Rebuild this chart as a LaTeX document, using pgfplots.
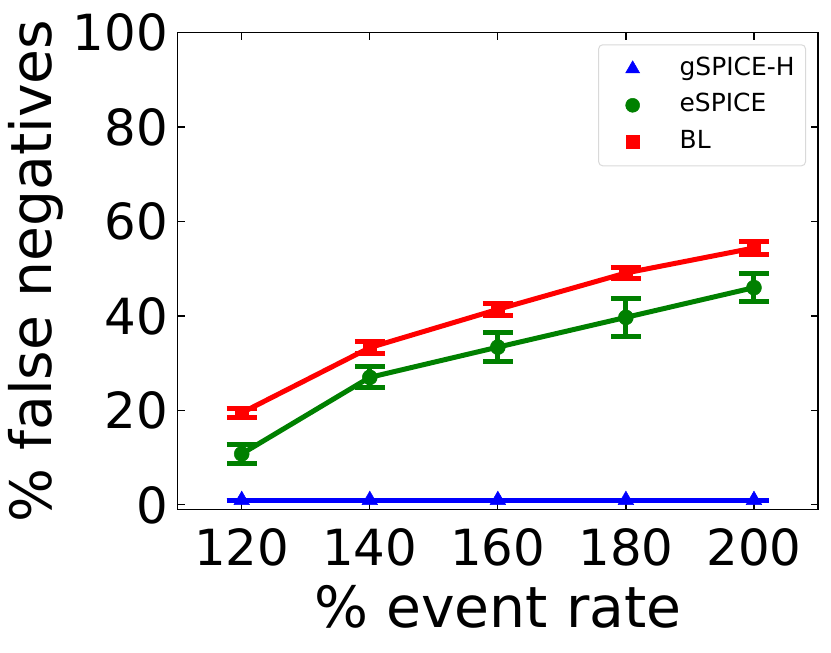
\documentclass[border=0pt]{standalone}
\usepackage{fontspec}
\setmainfont{DejaVu Sans}
\usepackage{pgfplots}
\pgfplotsset{compat=1.18}
\definecolor{mgreen}{RGB}{0,128,0}
\begin{document}
\begin{tikzpicture}
\begin{axis}[
  at={(0,0)}, anchor=south west,
  scale only axis, width=640.3bp, height=477bp,
  xmin=110, xmax=210, ymin=-1, ymax=100,
  xtick={120,140,...,200}, ytick={0,20,...,100},
  tick align=inside, major tick length=7bp,
  every tick/.style={black, line width=1.2bp},
  axis line style={line width=1.2bp},
  /pgf/number format/assume math mode=true,
  ticklabel style={font=\fontsize{50}{60}\selectfont},
  xticklabel style={anchor=north, inner sep=0pt, yshift=-19bp},
  yticklabel style={anchor=east, inner sep=0pt, xshift=-9.7bp},
  xlabel={\% event rate}, ylabel={\% false negatives},
  label style={font=\fontsize{57}{68}\selectfont, inner sep=0pt},
  xlabel style={at={([yshift=-117.7bp]axis description cs:0.5,0)}, anchor=base},
  ylabel style={at={([xshift=-125.7bp]axis description cs:0,0.5)}, anchor=base},
  legend style={at={([xshift=-12bp,yshift=-11.7bp]axis description cs:1,1)}, anchor=north east,
    draw=black!15, line width=1bp, rounded corners=4bp, fill=white,
    inner xsep=11bp, inner ysep=12.5bp, row sep=13.5bp, column sep=20bp,
    font=\fontsize{25}{30}\selectfont,
    nodes={inner sep=0pt, text height=18bp, text depth=5bp}},
  legend cell align=left,
  legend image code/.code={\path[draw=none,fill=none] (0bp,0bp) -- (50bp,0bp); \draw[#1, draw=none] plot coordinates {(23bp,0bp)};},
  error bars/y dir=both, error bars/y explicit,
  error bars/error bar style={line width=5bp},
  error bars/error mark options={rotate=90, mark size=15bp, line width=5bp},
]
\addplot[blue, line width=5bp, mark=triangle*, mark size=9bp, mark options={solid, line width=0.5bp}, forget plot]
  coordinates {(120,1.0) +- (0,0) (140,1.0) +- (0,0) (160,1.0) +- (0,0) (180,1.0) +- (0,0) (200,1.0) +- (0,0)};
\addplot[mgreen, line width=5bp, mark=*, mark size=7.5bp, mark options={solid, line width=0.5bp}, forget plot]
  coordinates {(120,10.8) +- (0,2.0) (140,27.0) +- (0,2.2) (160,33.4) +- (0,3.1) (180,39.7) +- (0,4.05) (200,46.0) +- (0,2.95)};
\addplot[red, line width=5bp, mark=square*, mark size=6.5bp, mark options={solid, line width=0.5bp}, forget plot]
  coordinates {(120,19.5) +- (0,1.0) (140,33.3) +- (0,1.2) (160,41.4) +- (0,1.25) (180,49.1) +- (0,1.25) (200,54.4) +- (0,1.4)};
\addlegendimage{only marks, blue, mark=triangle*, mark size=8bp, mark options={line width=0.5bp}}
\addlegendentry{gSPICE-H}
\addlegendimage{only marks, mgreen, mark=*, mark size=7bp, mark options={line width=0.5bp}}
\addlegendentry{eSPICE}
\addlegendimage{only marks, red, mark=square*, mark size=6.5bp, mark options={line width=0.5bp}}
\addlegendentry{BL}
\end{axis}
\pgfresetboundingbox
\path (-177.7bp,-142.7bp) rectangle (653.3bp,509.6bp);
\end{tikzpicture}
\end{document}
